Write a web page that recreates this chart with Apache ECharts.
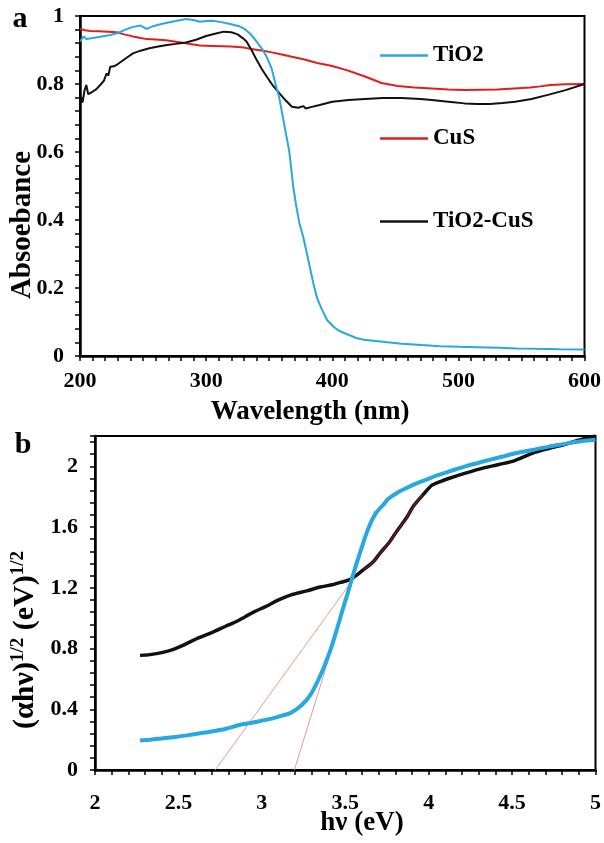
<!DOCTYPE html>
<html>
<head>
<meta charset="utf-8">
<script src="https://cdn.jsdelivr.net/npm/echarts@6/dist/echarts.min.js"></script>
<style>
  html, body { margin: 0; padding: 0; background: #fff; }
  #chart { width: 604px; height: 843px; }
</style>
</head>
<body>
<div id="chart"></div>
<script>
const FONT = '"Liberation Serif", "Times New Roman", serif';

// ---- Panel a: absorbance spectra (wavelength in nm) ----
const tio2Wl  = [200, 203, 205, 210, 216, 224, 230, 236, 242, 248, 253, 258, 263, 269, 276, 284, 290, 295, 300, 305, 312, 320, 326, 330, 335, 340, 344, 348, 352, 355, 358, 360, 363, 366, 369, 371.5, 374, 377, 380, 385, 388, 392, 396, 401, 405, 410, 419, 425, 440, 455, 471, 485, 501, 515, 532, 547, 562, 580, 600];
const tio2Abs = [0.925, 0.94, 0.932, 0.935, 0.939, 0.944, 0.95, 0.96, 0.968, 0.972, 0.962, 0.97, 0.975, 0.98, 0.985, 0.991, 0.988, 0.983, 0.985, 0.986, 0.982, 0.976, 0.97, 0.963, 0.948, 0.925, 0.905, 0.88, 0.845, 0.80, 0.76, 0.72, 0.66, 0.60, 0.50, 0.44, 0.39, 0.35, 0.30, 0.214, 0.17, 0.135, 0.105, 0.086, 0.075, 0.067, 0.053, 0.048, 0.042, 0.036, 0.032, 0.029, 0.027, 0.026, 0.024, 0.022, 0.021, 0.02, 0.019];

const cusWl  = [200, 204, 208, 215, 222, 229, 235, 242, 248, 253, 260, 268, 276, 284, 290, 295, 305, 320, 330, 336, 345, 352, 360, 368, 378, 388, 400, 412, 426, 439, 452, 465, 479, 492, 505, 518, 531, 544, 557, 565, 573, 585, 600];
const cusAbs = [0.962, 0.958, 0.956, 0.955, 0.954, 0.952, 0.946, 0.94, 0.935, 0.932, 0.931, 0.929, 0.924, 0.92, 0.916, 0.913, 0.912, 0.91, 0.907, 0.903, 0.898, 0.893, 0.887, 0.88, 0.872, 0.862, 0.853, 0.84, 0.822, 0.803, 0.794, 0.79, 0.787, 0.784, 0.782, 0.783, 0.784, 0.787, 0.79, 0.793, 0.797, 0.799, 0.80];

const compWl  = [200, 201, 202, 203.5, 205, 206.5, 209, 213, 216, 219, 221, 222.5, 224, 227, 229, 235, 242, 248, 255, 262, 269, 276, 284, 292, 300, 307, 314, 320, 325, 329, 332, 336, 340, 344, 348, 353, 358, 363, 368, 373, 377, 379, 383, 390, 400, 413, 426, 440, 455, 470, 479, 492, 505, 515, 525, 535, 545, 558, 571, 585, 600];
const compAbs = [0.753, 0.76, 0.745, 0.78, 0.797, 0.77, 0.775, 0.785, 0.797, 0.81, 0.831, 0.825, 0.851, 0.852, 0.856, 0.872, 0.89, 0.898, 0.905, 0.91, 0.915, 0.918, 0.922, 0.93, 0.941, 0.948, 0.954, 0.952, 0.946, 0.935, 0.925, 0.9, 0.871, 0.845, 0.822, 0.795, 0.773, 0.752, 0.733, 0.73, 0.735, 0.728, 0.732, 0.738, 0.748, 0.753, 0.756, 0.759, 0.759, 0.756, 0.753, 0.748, 0.743, 0.741, 0.741, 0.744, 0.748, 0.756, 0.768, 0.782, 0.80];

// ---- Panel b: Tauc plot (photon energy in eV) ----
const taucTio2E = [2.27, 2.33, 2.40, 2.47, 2.55, 2.62, 2.70, 2.78, 2.87, 2.93, 3.00, 3.07, 3.12, 3.17, 3.22, 3.27, 3.30, 3.33, 3.36, 3.39, 3.42, 3.45, 3.48, 3.51, 3.54, 3.57, 3.60, 3.63, 3.66, 3.69, 3.73, 3.76, 3.81, 3.86, 3.92, 3.98, 4.05, 4.12, 4.22, 4.32, 4.42, 4.52, 4.62, 4.72, 4.80, 4.88, 4.95, 5.0];
const taucTio2Y = [0.194, 0.2, 0.208, 0.216, 0.228, 0.24, 0.254, 0.27, 0.298, 0.309, 0.325, 0.342, 0.358, 0.375, 0.41, 0.464, 0.51, 0.574, 0.645, 0.728, 0.82, 0.927, 1.04, 1.148, 1.26, 1.369, 1.47, 1.567, 1.645, 1.70, 1.75, 1.788, 1.825, 1.854, 1.885, 1.91, 1.94, 1.965, 2.0, 2.03, 2.058, 2.086, 2.108, 2.13, 2.145, 2.16, 2.17, 2.175];

const taucCompE = [2.27, 2.33, 2.40, 2.47, 2.54, 2.62, 2.70, 2.78, 2.86, 2.95, 3.03, 3.10, 3.18, 3.27, 3.35, 3.42, 3.47, 3.52, 3.565, 3.61, 3.665, 3.71, 3.764, 3.81, 3.864, 3.91, 3.964, 4.02, 4.07, 4.12, 4.22, 4.32, 4.42, 4.52, 4.62, 4.72, 4.82, 4.91, 5.0];
const taucCompY = [0.755, 0.76, 0.773, 0.795, 0.828, 0.87, 0.905, 0.945, 0.985, 1.04, 1.08, 1.12, 1.155, 1.18, 1.205, 1.22, 1.236, 1.25, 1.28, 1.32, 1.368, 1.43, 1.50, 1.575, 1.656, 1.74, 1.81, 1.876, 1.9, 1.92, 1.955, 1.987, 2.012, 2.04, 2.086, 2.118, 2.146, 2.175, 2.20];

// Linear extrapolations to the energy axis (band-gap estimates)
const tangentAE = [2.72, 3.55];
const tangentAY = [0, 1.26];
const tangentBE = [3.195, 3.675];
const tangentBY = [0, 1.71];

// Energy window of the composite's steep rise that carries a fitted overlay
const fitRange = [3.6, 3.97];

const zip = (xs, ys) => xs.map((x, i) => [x, ys[i]]);
const fitPts = zip(taucCompE, taucCompY).filter(p => p[0] >= fitRange[0] && p[0] <= fitRange[1]);

const BLUE = '#27a8e0';
const RED = '#e11d1d';
const BLACK = '#111111';

const labelStyle = { color: '#000', fontFamily: FONT, fontWeight: 'bold', fontSize: 22 };
function valueAxis(o) {
  return Object.assign({
    type: 'value',
    axisLine: { show: true, onZero: false, lineStyle: { color: '#000', width: 2.5 } },
    axisTick: { show: true, inside: false, length: 5, lineStyle: { color: '#000', width: 1.5 } },
    minorTick: { show: true, length: 5, lineStyle: { color: '#000', width: 1.5 } },
    splitLine: { show: false },
    minorSplitLine: { show: false }
  }, o);
}

const chart = echarts.init(document.getElementById('chart'), null, { renderer: 'canvas' });

chart.setOption({
  animation: false,
  backgroundColor: '#fff',
  grid: [
    { left: 80, top: 16, width: 507, height: 340, show: true, borderColor: '#000', borderWidth: 2, containLabel: false },
    { left: 95, top: 436, width: 502, height: 334, show: true, borderColor: '#000', borderWidth: 2, containLabel: false }
  ],
  xAxis: [
    valueAxis({ gridIndex: 0, min: 200, max: 600, interval: 100,
      minorTick: { show: true, splitNumber: 10, length: 5, lineStyle: { color: '#000', width: 1.5 } },
      axisLabel: Object.assign({ margin: 14 }, labelStyle) }),
    valueAxis({ gridIndex: 1, min: 2, max: 5, interval: 0.5,
      minorTick: { show: true, splitNumber: 5, length: 5, lineStyle: { color: '#000', width: 1.5 } },
      axisLabel: Object.assign({ margin: 22 }, labelStyle) })
  ],
  yAxis: [
    valueAxis({ gridIndex: 0, min: 0, max: 1, interval: 0.2,
      minorTick: { show: true, splitNumber: 5, length: 5, lineStyle: { color: '#000', width: 1.5 } },
      axisLabel: Object.assign({ margin: 16 }, labelStyle) }),
    valueAxis({ gridIndex: 1, min: 0, max: 2.2, interval: 0.4,
      minorTick: { show: true, splitNumber: 5, length: 5, lineStyle: { color: '#000', width: 1.5 } },
      axisLabel: Object.assign({ margin: 17, showMaxLabel: false }, labelStyle) })
  ],
  legend: {
    data: ['TiO2', 'CuS', 'TiO2-CuS'],
    orient: 'vertical',
    left: 380,
    top: 44,
    padding: 0,
    icon: 'rect',
    itemWidth: 48,
    itemHeight: 2.5,
    itemGap: 60,
    textStyle: { color: '#000', fontFamily: FONT, fontWeight: 'bold', fontSize: 23, lineHeight: 23 },
    selectedMode: false
  },
  series: [
    { name: 'CuS', type: 'line', xAxisIndex: 0, yAxisIndex: 0, symbol: 'none', smooth: false,
      data: zip(cusWl, cusAbs), lineStyle: { color: RED, width: 2 }, itemStyle: { color: RED }, z: 3 },
    { name: 'TiO2-CuS', type: 'line', xAxisIndex: 0, yAxisIndex: 0, symbol: 'none',
      data: zip(compWl, compAbs), lineStyle: { color: BLACK, width: 2 }, itemStyle: { color: BLACK }, z: 4 },
    { name: 'TiO2', type: 'line', xAxisIndex: 0, yAxisIndex: 0, symbol: 'none',
      data: zip(tio2Wl, tio2Abs), lineStyle: { color: BLUE, width: 2 }, itemStyle: { color: BLUE }, z: 5 },

    { name: 'Tangent A', type: 'line', xAxisIndex: 1, yAxisIndex: 1, symbol: 'none',
      data: zip(tangentAE, tangentAY), lineStyle: { color: '#e39a9a', width: 1 }, z: 2 },
    { name: 'Tangent B', type: 'line', xAxisIndex: 1, yAxisIndex: 1, symbol: 'none',
      data: zip(tangentBE, tangentBY), lineStyle: { color: '#e39a9a', width: 1 }, z: 2 },
    { name: 'TiO2-CuS Tauc', type: 'line', xAxisIndex: 1, yAxisIndex: 1, symbol: 'none', smooth: 0.3,
      data: zip(taucCompE, taucCompY), lineStyle: { color: BLACK, width: 3.5 }, z: 3 },
    { name: 'Fit', type: 'line', xAxisIndex: 1, yAxisIndex: 1, symbol: 'none', smooth: 0.3,
      data: fitPts, lineStyle: { color: '#6e1d1d', width: 1.5 }, z: 4 },
    { name: 'TiO2 Tauc', type: 'line', xAxisIndex: 1, yAxisIndex: 1, symbol: 'none', smooth: 0.3,
      data: zip(taucTio2E, taucTio2Y), lineStyle: { color: BLUE, width: 4 }, z: 5 }
  ],
  graphic: [
    { type: 'text', x: 20, y: 19, style: { text: 'a', font: 'bold 30px ' + FONT, fill: '#000', align: 'center', verticalAlign: 'middle', textAlign: 'center', textVerticalAlign: 'middle' } },
    { type: 'text', x: 23, y: 445, style: { text: 'b', font: 'bold 30px ' + FONT, fill: '#000', align: 'center', verticalAlign: 'middle', textAlign: 'center', textVerticalAlign: 'middle' } },
    { type: 'text', x: 23, y: 225, rotation: Math.PI / 2,
      style: { text: 'Absoebance', font: 'bold 29px ' + FONT, fill: '#000', align: 'center', verticalAlign: 'middle', textAlign: 'center', textVerticalAlign: 'middle' } },
    { type: 'text', x: 310, y: 412,
      style: { text: 'Wavelength (nm)', font: 'bold 27px ' + FONT, fill: '#000', align: 'center', verticalAlign: 'middle', textAlign: 'center', textVerticalAlign: 'middle' } },
    { type: 'text', x: 362, y: 823,
      style: { text: 'hν (eV)', font: 'bold 27px ' + FONT, fill: '#000', align: 'center', verticalAlign: 'middle', textAlign: 'center', textVerticalAlign: 'middle' } },
    { type: 'text', x: 25, y: 640, rotation: Math.PI / 2,
      style: {
        text: '{m|(αhν)}{s|1/2}{m| (eV)}{s|1/2}',
        align: 'center', verticalAlign: 'middle', textAlign: 'center', textVerticalAlign: 'middle',
        fill: '#000',
        rich: {
          m: { fontFamily: FONT, fontWeight: 'bold', fontSize: 30, lineHeight: 32, fill: '#000', color: '#000' },
          s: { fontFamily: FONT, fontWeight: 'bold', fontSize: 19, lineHeight: 19, verticalAlign: 'top', fill: '#000', color: '#000' }
        }
      } }
  ]
});
</script>
</body>
</html>
